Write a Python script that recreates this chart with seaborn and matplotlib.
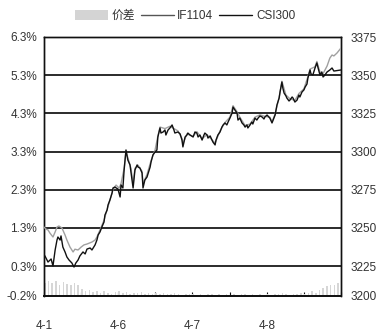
import numpy as np
import pandas as pd
import matplotlib
matplotlib.use("Agg")
import matplotlib.pyplot as plt
from matplotlib.patches import Patch
from matplotlib.lines import Line2D
from matplotlib.ticker import MultipleLocator
import seaborn as sns

# ---------------- data ----------------
# minute index across four trading days (240 minutes per day)
csi_min = [0, 3, 13, 23, 29, 36, 42, 45, 52, 55, 61, 68, 74, 81, 90, 97, 103, 110, 116, 126,
           133, 139, 149, 155, 165, 171, 175, 181, 187, 194, 197, 204, 207, 213, 220, 223, 229, 239, 246, 249,
           255, 259, 265, 271, 278, 281, 288, 294, 301, 304, 310, 317, 320, 326, 333, 343, 346, 352, 359, 365,
           368, 375, 378, 385, 391, 394, 401, 407, 414, 420, 423, 433, 440, 446, 449, 456, 462, 465, 472, 482,
           488, 494, 498, 504, 511, 517, 520, 527, 530, 537, 543, 546, 553, 556, 562, 569, 575, 579, 585, 591,
           595, 601, 608, 611, 617, 624, 627, 633, 640, 646, 650, 656, 659, 666, 672, 675, 682, 688, 692, 698,
           705, 711, 714, 721, 730, 737, 743, 747, 753, 760, 763, 769, 772, 776, 782, 785, 792, 795, 802, 805,
           811, 818, 824, 827, 834, 840, 844, 850, 853, 860, 863, 869, 876, 882, 886, 892, 898, 902, 908, 915,
           924, 931, 937, 960]
csi_val = [3232.0, 3231.6, 3227.6, 3229.6, 3225.0, 3235.5, 3242.0, 3244.0, 3242.0, 3244.7,
           3237.4, 3234.2, 3230.9, 3228.9, 3227.0, 3224.3, 3227.0, 3228.9, 3231.6, 3234.2,
           3232.9, 3236.1, 3236.8, 3235.5, 3238.8, 3242.0, 3245.3, 3247.3, 3250.5, 3253.8,
           3258.4, 3261.7, 3265.0, 3268.2, 3272.8, 3276.1, 3276.7, 3275.4, 3270.2, 3278.1,
           3276.1, 3287.9, 3301.0, 3294.4, 3291.2, 3286.6, 3276.1, 3287.9, 3291.2, 3289.8,
           3289.2, 3285.9, 3276.1, 3281.3, 3283.3, 3289.8, 3293.1, 3297.7, 3299.7, 3301.0,
           3309.5, 3315.4, 3312.1, 3312.8, 3314.1, 3310.8, 3314.1, 3315.4, 3317.4, 3314.1,
           3312.1, 3312.8, 3311.5, 3307.5, 3303.0, 3309.5, 3310.8, 3312.1, 3310.8, 3309.5,
           3312.8, 3312.1, 3309.5, 3310.8, 3307.5, 3310.8, 3312.1, 3310.8, 3308.8, 3310.2,
           3307.5, 3306.2, 3304.3, 3307.5, 3310.8, 3312.8, 3316.0, 3317.4, 3318.7, 3317.4,
           3319.3, 3321.9, 3325.2, 3329.1, 3327.2, 3325.2, 3320.6, 3321.9, 3318.7, 3317.4,
           3316.0, 3317.4, 3315.4, 3317.4, 3319.3, 3318.0, 3321.9, 3320.6, 3321.9, 3323.3,
           3322.6, 3321.3, 3322.6, 3323.9, 3321.9, 3318.7, 3321.9, 3323.9, 3330.5, 3335.0,
           3339.0, 3345.5, 3341.6, 3338.3, 3336.4, 3335.0, 3333.1, 3333.7, 3335.7, 3335.0,
           3332.4, 3333.7, 3337.0, 3335.7, 3339.0, 3340.3, 3342.2, 3344.2, 3348.1, 3353.4,
           3350.8, 3350.1, 3354.7, 3358.0, 3354.7, 3350.1, 3352.1, 3348.8, 3350.1, 3352.1,
           3353.4, 3354.7, 3352.7, 3353.4]

if_min = [0, 6, 13, 19, 29, 36, 42, 48, 58, 68, 74, 84, 94, 100, 110, 120, 129, 139, 155, 165,
          171, 181, 187, 194, 204, 213, 223, 233, 243, 249, 259, 265, 271, 281, 288, 294, 304, 317, 320, 333,
          346, 359, 368, 375, 391, 407, 420, 433, 446, 449, 462, 482, 494, 511, 527, 546, 553, 569, 585, 601,
          611, 624, 633, 650, 666, 682, 698, 714, 730, 737, 747, 760, 769, 782, 795, 811, 824, 840, 853, 860,
          876, 882, 892, 902, 915, 924, 931, 937, 947, 960]
if_val = [3250.5, 3249.2, 3248.6, 3246.6, 3244.0, 3247.3, 3250.5, 3251.2, 3249.9, 3245.3,
          3242.0, 3237.4, 3234.2, 3236.0, 3235.5, 3237.4, 3238.8, 3239.4, 3240.7, 3242.0,
          3244.0, 3248.6, 3251.5, 3255.0, 3262.0, 3268.0, 3275.0, 3278.0, 3276.0, 3279.0,
          3289.0, 3300.0, 3296.0, 3289.0, 3279.0, 3289.0, 3291.0, 3287.0, 3279.0, 3285.0,
          3294.0, 3301.0, 3310.0, 3316.0, 3315.0, 3316.5, 3315.0, 3313.5, 3308.5, 3305.0,
          3311.5, 3310.0, 3313.0, 3308.5, 3311.0, 3307.0, 3305.5, 3313.5, 3319.0, 3322.5,
          3330.0, 3326.0, 3322.5, 3317.0, 3318.0, 3322.5, 3324.0, 3323.0, 3322.5, 3319.5,
          3324.5, 3335.5, 3346.0, 3337.0, 3334.5, 3333.5, 3338.0, 3341.0, 3349.0, 3354.0,
          3355.5, 3359.0, 3352.0, 3351.0, 3356.0, 3361.2, 3363.2, 3362.6, 3364.5, 3367.8]

spread_min = [0, 12, 24, 36, 48, 60, 72, 84, 96, 108,
              120, 132, 144, 156, 168, 180, 192, 204, 216, 228,
              240, 252, 264, 276, 288, 300, 312, 324, 336, 348,
              360, 372, 384, 396, 408, 420, 432, 444, 456, 468,
              480, 492, 504, 516, 528, 540, 552, 564, 576, 588,
              600, 612, 624, 636, 648, 660, 672, 684, 696, 708,
              720, 732, 744, 756, 768, 780, 792, 804, 816, 828,
              840, 852, 864, 876, 888, 900, 912, 924, 936, 948]
spread_val = [0.35, 0.40, 0.33, 0.38, 0.30, 0.36, 0.32, 0.28, 0.34, 0.30,
              0.18, 0.12, 0.15, 0.10, 0.13, 0.08, 0.12, 0.09, 0.06, 0.10,
              0.12, 0.08, 0.10, 0.05, 0.09, 0.07, 0.11, 0.06, 0.08, 0.04,
              0.07, 0.05, 0.09, 0.04, 0.06, 0.08, 0.05, 0.03, 0.06, 0.04,
              0.05, 0.03, 0.06, 0.02, 0.04, 0.05, 0.03, 0.06, 0.02, 0.04,
              0.03, 0.05, 0.02, 0.04, 0.06, 0.03, 0.05, 0.02, 0.04, 0.03,
              0.05, 0.03, 0.06, 0.04, 0.07, 0.05, 0.03, 0.06, 0.04, 0.08,
              0.06, 0.09, 0.12, 0.08, 0.15, 0.20, 0.25, 0.30, 0.28, 0.33]

day_pos = [0, 240, 480, 720]
day_labels = ["4-1", "4-6", "4-7", "4-8"]
left_labels = ["-0.2%", "0.3%", "1.3%", "2.3%", "3.3%", "4.3%", "5.3%", "6.3%"]
right_labels = ["3200", "3225", "3250", "3275", "3300", "3325", "3350", "3375"]
series_names = ["价差", "IF1104", "CSI300"]

# ---------------- styling ----------------
sns.set_theme(style="white")
plt.rcParams["font.family"] = ["Liberation Sans", "Noto Sans CJK SC", "DejaVu Sans"]

fig = plt.figure(figsize=(3.86, 3.33), dpi=100)
ax = fig.add_axes([44 / 386, 37 / 333, 297 / 386, 259 / 333])
ax2 = ax.twinx()

# axis layout: gridlines equally spaced, bottom band shorter (as in the source)
left_floor = 0.3 - 30 / 38.17
right_floor = 3225 - 30 / 38.17 * 25
left_ticks = [left_floor, 0.3, 1.3, 2.3, 3.3, 4.3, 5.3, 6.3]
right_ticks = [right_floor, 3225, 3250, 3275, 3300, 3325, 3350, 3375]

ax.set_xlim(0, 960)
ax.set_ylim(left_floor, 6.3)
ax2.set_ylim(right_floor, 3375)

# spread bars from the bottom of the plot
ax.bar(spread_min, spread_val, width=5, bottom=left_floor, color="#d6d6d6",
       edgecolor="none", zorder=1, align="edge")

# gridlines
for t in left_ticks[1:]:
    ax.axhline(t, color="#1a1a1a", lw=1.3, zorder=2)

df_if = pd.DataFrame({"minute": if_min, "value": if_val})
df_csi = pd.DataFrame({"minute": csi_min, "value": csi_val})
sns.lineplot(data=df_if, x="minute", y="value", ax=ax2, color="#a0a0a0", lw=1.0, zorder=3)
sns.lineplot(data=df_csi, x="minute", y="value", ax=ax2, color="#111111", lw=1.0, zorder=4)

ax.set_yticks(left_ticks)
ax.set_yticklabels(left_labels)
ax2.set_yticks(right_ticks)
ax2.set_yticklabels(right_labels)
ax.set_xticks(day_pos)
ax.set_xticklabels(day_labels)
ax.xaxis.set_minor_locator(MultipleLocator(120))

for a in (ax, ax2):
    a.set_xlabel("")
    a.set_ylabel("")
    for s in a.spines.values():
        s.set_color("#111111")
        s.set_linewidth(1.0)
    a.spines["bottom"].set_linewidth(1.3)

ax.tick_params(axis="y", which="both", length=0, pad=5, labelsize=8.5, labelcolor="#333333")
ax2.tick_params(axis="y", which="both", length=0, pad=7, labelsize=8.5, labelcolor="#333333")
ax.tick_params(axis="x", which="major", direction="in", length=3, width=0.8, color="#111111",
               pad=17, labelsize=8.5, labelcolor="#333333", bottom=True)
ax.tick_params(axis="x", which="minor", direction="in", length=3, width=0.8, color="#111111",
               bottom=True)

handles = [Patch(facecolor="#d4d4d4", edgecolor="none"),
           Line2D([0], [0], color="#555555", lw=1.0),
           Line2D([0], [0], color="#111111", lw=1.0)]
fig.legend(handles, series_names, loc="center", bbox_to_anchor=(185 / 386, 1 - 16 / 333),
           ncol=3, frameon=False, fontsize=8.5, handlelength=2.8, handleheight=0.9,
           handletextpad=0.3, columnspacing=0.5, labelcolor="#333333")

fig.savefig("out.png", dpi=100)
